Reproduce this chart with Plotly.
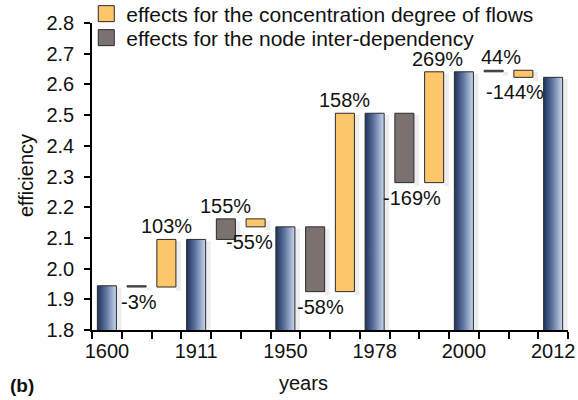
import plotly.graph_objects as go

# ---- data ----
years = ["1600", "1911", "1950", "1978", "2000", "2012"]
efficiency = [1.944, 2.095, 2.136, 2.506, 2.641, 2.623]
# node inter-dependency effect: from efficiency[i] to node_end[i]
node_end = [1.940, 2.162, 1.925, 2.280, 2.646]
node_pct = ["-3%", "155%", "-58%", "-169%", "44%"]
# concentration effect: from node_end[i] to efficiency[i+1]
conc_pct = ["103%", "-55%", "158%", "269%", "-144%"]
label_shift_node = [2, 0, 5, 8, 7]
label_shift_conc = [0, -6, 0, 3, -8]

FONT = "Liberation Sans, Arial, Helvetica, sans-serif"
ORANGE = "#fec66b"
GRAY = "#7b716f"
EDGE = "#2b2b2b"
W = 0.64
YMIN, YMAX = 1.8, 2.8

x_blue = [3 * i for i in range(len(years))]
x_node = [3 * i + 1 for i in range(len(node_end))]
x_conc = [3 * i + 2 for i in range(len(node_end))]

node_base = [min(efficiency[i], node_end[i]) for i in range(len(node_end))]
node_h = [abs(node_end[i] - efficiency[i]) for i in range(len(node_end))]
conc_base = [min(node_end[i], efficiency[i + 1]) for i in range(len(node_end))]
conc_h = [abs(efficiency[i + 1] - node_end[i]) for i in range(len(node_end))]

fig = go.Figure()

# soft shadows to the right of every bar
sx, sy = [], []
def add_shadow(xc, lo, hi):
    x1 = xc + W / 2
    d = 0.17
    sx.extend([x1, x1 + d, x1 + d, x1, x1, None])
    sy.extend([lo - 0.012, lo - 0.012, hi - 0.006, hi - 0.006, lo - 0.012, None])
for xc, v in zip(x_blue, efficiency):
    add_shadow(xc, YMIN - 0.05, v)
for xc, b, h in zip(x_node, node_base, node_h):
    add_shadow(xc, b, b + h)
for xc, b, h in zip(x_conc, conc_base, conc_h):
    add_shadow(xc, b, b + h)
fig.add_trace(go.Scatter(x=sx, y=sy, mode="lines", fill="toself",
                         fillcolor="rgba(0,0,0,0.07)", line=dict(width=0),
                         hoverinfo="skip", showlegend=False))

# blue gradient bars (efficiency at each year)
for xc, v, yr in zip(x_blue, efficiency, years):
    x0, x1 = xc - W / 2, xc + W / 2
    fig.add_trace(go.Scatter(
        x=[x0, x1, x1, x0, x0], y=[YMIN - 0.05, YMIN - 0.05, v, v, YMIN - 0.05],
        mode="lines", fill="toself",
        fillgradient=dict(type="horizontal",
                          colorscale=[[0, "#1d335e"], [0.45, "#5d739c"], [1, "#c9d7ee"]]),
        line=dict(color=EDGE, width=1), name=yr, showlegend=False,
        hovertemplate=yr + ": %{y:.3f}<extra></extra>"))

# node inter-dependency bars
fig.add_trace(go.Bar(x=x_node, y=node_h, base=node_base, width=W,
                     marker=dict(color=GRAY, line=dict(color=EDGE, width=1)),
                     name="effects for the node inter-dependency",
                     showlegend=False, legendgroup="node"))
# concentration bars
fig.add_trace(go.Bar(x=x_conc, y=conc_h, base=conc_base, width=W,
                     marker=dict(color=ORANGE, line=dict(color=EDGE, width=1)),
                     name="effects for the concentration degree of flows",
                     showlegend=False, legendgroup="conc"))

# legend entries (one legend box per row for exact spacing)
fig.add_trace(go.Scatter(x=[None], y=[None], mode="markers",
                         marker=dict(symbol="square", size=16, color=ORANGE,
                                     line=dict(color=EDGE, width=1)),
                         name="effects for the concentration degree of flows",
                         legendgroup="conc", legend="legend"))
fig.add_trace(go.Scatter(x=[None], y=[None], mode="markers",
                         marker=dict(symbol="square", size=16, color=GRAY,
                                     line=dict(color=EDGE, width=1)),
                         name="effects for the node inter-dependency",
                         legendgroup="node", legend="legend2"))

annotations = []
def pct_label(xc, start, end, text, shift):
    up = end >= start
    annotations.append(dict(
        x=xc, y=max(start, end) if up else min(start, end), text=text,
        showarrow=False, xanchor="center", yanchor="bottom" if up else "top",
        xshift=shift, yshift=0 if up else -2,
        font=dict(family=FONT, size=20, color="#111")))
for i in range(len(node_end)):
    pct_label(x_node[i], efficiency[i], node_end[i], node_pct[i], label_shift_node[i])
    pct_label(x_conc[i], node_end[i], efficiency[i + 1], conc_pct[i], label_shift_conc[i])

annotations.append(dict(x=303, y=383, text="years",
                        showarrow=False, font=dict(family=FONT, size=20, color="#111")))
annotations.append(dict(x=26, y=176, text="efficiency", textangle=-90,
                        showarrow=False, font=dict(family=FONT, size=20, color="#111")))
annotations.append(dict(x=22, y=385, text="<b>(b)</b>", showarrow=False,
                        font=dict(family=FONT, size=19, color="#111")))

# convert pixel-placed text annotations to paper coords
L, R, T, B = 92, 10, 23, 70
WID, HEI = 578, 400
pw, ph = WID - L - R, HEI - T - B
for a in annotations[-3:]:
    a["xref"], a["yref"] = "paper", "paper"
    px, py = a["x"], a["y"]
    a["x"] = (px - L) / pw
    a["y"] = (HEI - B - py) / ph
    a["xanchor"], a["yanchor"] = "center", "middle"

def legend_at(row_y):
    return dict(x=-0.012, y=(HEI - B - row_y) / ph, xanchor="left", yanchor="middle",
                bgcolor="rgba(0,0,0,0)", font=dict(family=FONT, size=21, color="#111"),
                tracegroupgap=0, itemsizing="trace")

fig.update_layout(
    width=WID, height=HEI,
    margin=dict(l=L, r=R, t=T, b=B, autoexpand=False),
    paper_bgcolor="white", plot_bgcolor="white",
    font=dict(family=FONT, size=20, color="#111"),
    barmode="overlay",
    showlegend=True,
    legend=legend_at(14),
    legend2=legend_at(38),
    annotations=annotations,
)
fig.update_xaxes(
    range=[-0.5, 15.5], tickvals=x_blue, ticktext=years, ticks="",
    showline=True, linecolor="black", linewidth=1.5, showgrid=False, zeroline=False,
    tickfont=dict(family=FONT, size=20, color="#111"), ticklabelstandoff=2,
    automargin=False,
    minor=dict(tickvals=[k - 0.5 for k in range(17)], ticks="outside", ticklen=7,
               tickcolor="black", tickwidth=1.5, showgrid=False),
)
fig.update_yaxes(
    range=[YMIN, YMAX], dtick=0.1, tick0=1.8, tickformat=".1f", ticks="outside",
    ticklen=6, tickwidth=1.5, tickcolor="black", showline=True, linecolor="black",
    linewidth=1.5, showgrid=False, zeroline=False, ticklabelstandoff=6,
    automargin=False,
    tickfont=dict(family=FONT, size=20, color="#111"),
)

fig.write_html("out.html", config={"displayModeBar": False},
               post_script="document.body.style.margin='0';")
